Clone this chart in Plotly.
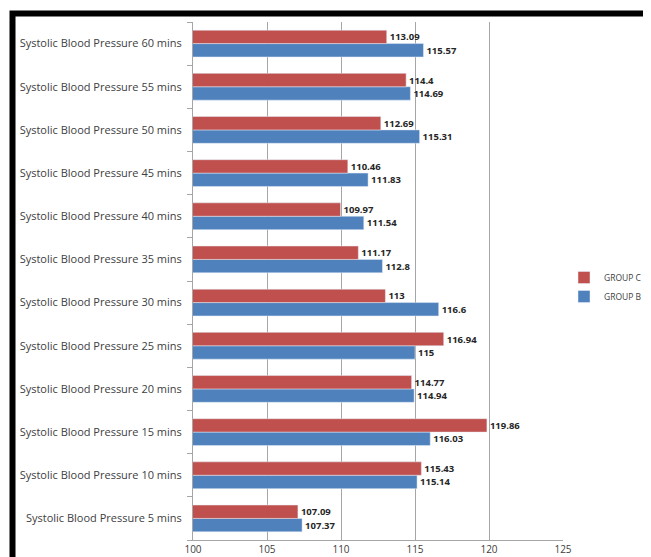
import plotly.graph_objects as go

categories = [f"Systolic Blood Pressure {m} mins" for m in [5, 10, 15, 20, 25, 30, 35, 40, 45, 50, 55, 60]]
group_c = [107.09, 115.43, 119.86, 114.77, 116.94, 113, 111.17, 109.97, 110.46, 112.69, 114.4, 113.09]
group_b = [107.37, 115.14, 116.03, 114.94, 115, 116.6, 112.8, 111.54, 111.83, 115.31, 114.69, 115.57]
x_ticks = [100, 105, 110, 115, 120, 125]

W, H = 643, 549  # page has an 8px body margin
label_font = dict(family="Open Sans", size=9.5, color="#262626")

fig = go.Figure()
fig.add_trace(go.Bar(
    y=categories, x=group_b, orientation="h", name="GROUP B",
    marker=dict(color="#4F81BD"),
    text=[f"{v:g}" for v in group_b], textposition="outside",
    texttemplate="<b>%{text}</b>", textfont=label_font, cliponaxis=False,
))
fig.add_trace(go.Bar(
    y=categories, x=group_c, orientation="h", name="GROUP C",
    marker=dict(color="#C0504D"),
    text=[f"{v:g}" for v in group_c], textposition="outside",
    texttemplate="<b>%{text}</b>", textfont=label_font, cliponaxis=False,
))

fig.update_layout(
    width=W, height=H,
    margin=dict(l=185, r=88, t=14, b=17, autoexpand=False),
    paper_bgcolor="white", plot_bgcolor="white",
    barmode="group", bargap=0.38, bargroupgap=0,
    font=dict(family="Open Sans", color="#404040"),
    showlegend=True,
    legend=dict(
        xref="container", yref="container",
        x=556 / W, y=1 - 279 / H, xanchor="left", yanchor="middle",
        traceorder="reversed",
        font=dict(family="Open Sans", size=8.5, color="#404040"),
        itemwidth=30, tracegroupgap=0,
        bgcolor="rgba(0,0,0,0)",
    ),
    shapes=[dict(
        type="rect", xref="paper", yref="paper",
        x0=(12.5 - 193) / 370, x1=2.0, y0=-0.5, y1=(540 - 13.5) / 518,
        line=dict(color="black", width=6), fillcolor="rgba(0,0,0,0)",
        layer="above",
    )],
)

fig.update_xaxes(
    range=[100, 125], tickvals=x_ticks, ticktext=[str(t) for t in x_ticks],
    showgrid=True, gridcolor="#A6A6A6", gridwidth=1,
    showline=True, linecolor="#A6A6A6", linewidth=1,
    ticks="", zeroline=False, automargin=False,
    tickfont=dict(family="Open Sans", size=10, color="#404040"),
)
fig.update_yaxes(
    type="category", categoryorder="array", categoryarray=categories,
    showgrid=False, showline=True, linecolor="#A6A6A6", linewidth=1,
    ticks="outside", tickson="boundaries", ticklen=5, tickcolor="#A6A6A6",
    tickfont=dict(family="Open Sans", size=11, color="#404040"),
    ticklabelstandoff=8, automargin=False,
)

fig.write_html("out.html")
